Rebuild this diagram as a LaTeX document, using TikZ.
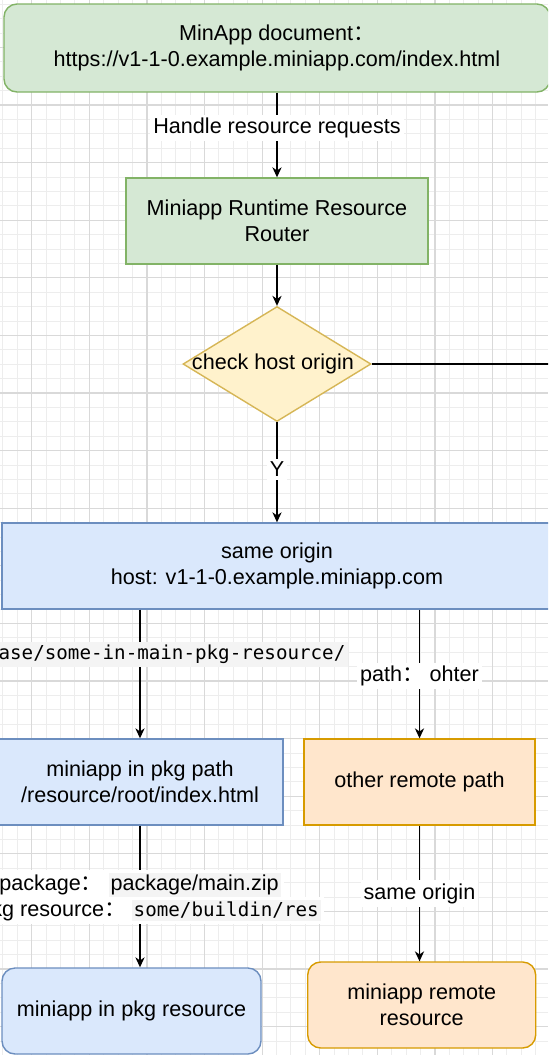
\documentclass[tikz,border=0pt]{standalone}
\usepackage{fontspec}
\setmainfont{Liberation Sans}
\setmonofont{DejaVu Sans Mono}
\newfontfamily\cjk{Noto Sans CJK SC}
\usetikzlibrary{positioning, arrows.meta, shapes.geometric}

\definecolor{greenfill}{HTML}{D5E8D4}
\definecolor{greenline}{HTML}{82B366}
\definecolor{bluefill}{HTML}{DAE8FC}
\definecolor{blueline}{HTML}{6C8EBF}
\definecolor{yellowfill}{HTML}{FFF2CC}
\definecolor{yellowline}{HTML}{D6B656}
\definecolor{orangefill}{HTML}{FFE6CC}
\definecolor{orangeline}{HTML}{D79B00}
\definecolor{codebg}{HTML}{F4F4F4}

\newcommand{\wcolon}{{\cjk ：}}
\newcommand{\monotxt}{\ttfamily\fontsize{9.6}{13}\selectfont}
\newcommand{\greybg}[1]{{\setlength{\fboxsep}{1pt}\colorbox{codebg}{#1}}}

\begin{document}
\begin{tikzpicture}[x=0.5pt, y=-0.5pt, on grid,
    >={Stealth[length=5pt, width=4.6pt, inset=1.6pt]},
    font=\fontsize{10.8}{13}\selectfont,
    block/.style={draw, line width=0.7pt, align=center, inner sep=0pt, minimum height=43pt},
    greenbox/.style={block, draw=greenline, fill=greenfill},
    bluebox/.style={block, draw=blueline, fill=bluefill},
    orangebox/.style={block, draw=orangeline, fill=orangefill},
    decision/.style={diamond, draw=yellowline, fill=yellowfill, line width=0.7pt,
        inner sep=0pt, minimum width=94pt, minimum height=57.5pt},
    tag/.style={fill=white, inner sep=1.5pt, align=center},
    minorline/.style={gray!14, line width=0.5pt},
    majorline/.style={gray!30, line width=0.6pt}]

    \useasboundingbox (0,0) rectangle (548,1055);
    \clip (0,0) rectangle (548,1055);
    \fill[white] (0,0) rectangle (548,1055);

    % background grid
    \foreach \gx in {2.9,17.3,...,548} \draw[minorline] (\gx,0) -- (\gx,1055);
    \foreach \gy in {4.2,18.6,...,1055} \draw[minorline] (0,\gy) -- (548,\gy);
    \foreach \gx in {31.7,89.3,...,548} \draw[majorline] (\gx,0) -- (\gx,1055);
    \foreach \gy in {47.4,105,...,1055} \draw[majorline] (0,\gy) -- (548,\gy);

    \node[greenbox, rounded corners=6.5pt, minimum width=273pt, minimum height=44pt] (doc) at (277,48)
        {MinApp document\wcolon\\https://v1-1-0.example.miniapp.com/index.html};
    \node[greenbox, minimum width=151pt] (router) [below=86.5pt of doc] {Miniapp Runtime Resource\\Router};
    \node[decision, label={[xshift=-2pt]center:check host origin}] (check) [below=71.5pt of router] {};
    \node[bluebox, minimum width=275pt] (same) [below=101pt of check] {same origin\\host: v1-1-0.example.miniapp.com};
    \node[bluebox, minimum width=143pt] (pkgpath) at (140,782) {miniapp in pkg path\\/resource/root/index.html};
    \node[orangebox, minimum width=115.5pt] (other) [right=139.75pt of pkgpath] {other remote path};
    \node[bluebox, rounded corners=6.5pt, minimum width=129.5pt] (pkgres) at (131.5,1011) {miniapp in pkg resource};
    \node[orangebox, rounded corners=6.5pt, minimum width=114pt] (remote) at (421.7,1005) {miniapp remote\\resource};
    \coordinate (offright) at (570,364);

    \path[->, line width=0.7pt]
    (doc) edge node[tag, pos=.42] {Handle resource requests} (router)
    (router) edge (check)
    (check) edge[-] (offright)
    (check) edge node[tag, pos=.47] {Y} (same)
    (same.south -| pkgpath) edge node[tag, pos=.35, xshift=16pt, fill=codebg, font=\monotxt]
        {ase/some-in-main-pkg-resource/} (pkgpath)
        (same.south -| other) edge node[tag, pos=.515] {path\wcolon{} ohter} (other)
    (pkgpath) edge node[tag, pos=.42] {package\wcolon{} \greybg{package/main.zip}}
        node[tag, pos=.6, xshift=8pt] {kg resource\wcolon{} \greybg{\monotxt some/buildin/res}}
        (pkgpath.south |- pkgres.north)
        (other) edge node[tag, pos=.5] {same origin} (other.south |- remote.north);
\end{tikzpicture}
\end{document}
